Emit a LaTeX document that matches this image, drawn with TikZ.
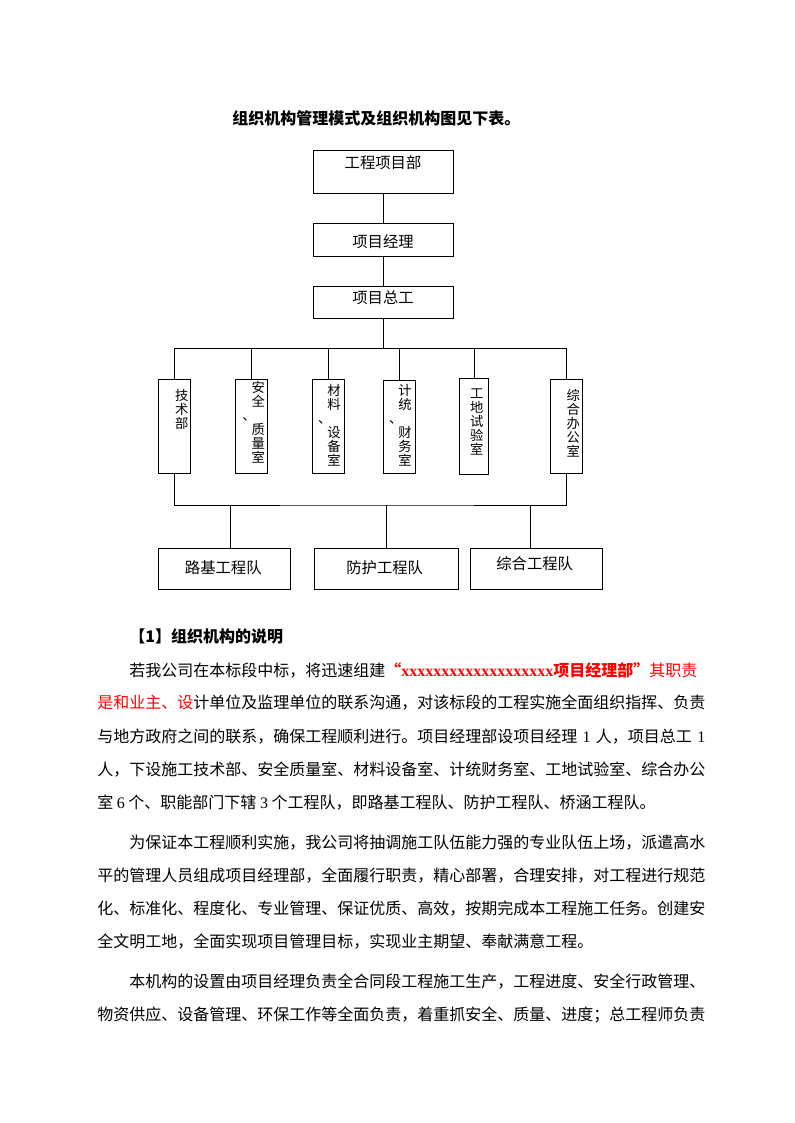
\documentclass[tikz,border=0pt]{standalone}
\usepackage{fontspec}
\setmainfont{Noto Sans CJK SC}
\newfontfamily\xfont{Liberation Serif}
\usepackage{xcolor}
\usepackage{tikz}
\usetikzlibrary{positioning,calc}
\definecolor{hongse}{HTML}{FF0000}
\XeTeXlinebreaklocale "zh"
\XeTeXlinebreakskip=0pt plus 1pt minus 0.1pt
\newcommand{\jline}[2]{\makebox[#1][s]{#2}}% ligne justifiee
\newcommand{\dun}{\makebox[0pt][r]{、\hspace{2pt}}}% dun hao decale
\newcommand{\zuoyin}{\makebox[12pt][r]{“}}% guillemets pleine chasse
\newcommand{\youyin}{\makebox[12pt][l]{”}}

\begin{document}
\begin{tikzpicture}[
    x=0.75pt, y=-0.75pt,
    every node/.style={inner sep=0pt},
    bx/.style 2 args={draw, line width=0.75pt, minimum width=#1*0.75pt, minimum height=#2*0.75pt},
    lk/.style={line width=0.75pt},
    zi/.style={font=\fontsize{11.5pt}{12pt}\selectfont},
    shu/.style={font=\fontsize{10pt}{10.5pt}\selectfont, align=center, anchor=north},
    hang/.style={font=\fontsize{12pt}{14pt}\selectfont, anchor=west},
    biaoti/.style={font=\fontsize{12pt}{14pt}\selectfont\bfseries, anchor=west}
  ]
  \fill[white] (0,0) rectangle (794,1123);
  \useasboundingbox (0,0) rectangle (794,1123);

  % ---- titre ----------------------------------------------------------
  \node[biaoti] (titre) at (232,118) {组织机构管理模式及组织机构图见下表。};

  % ---- direction ------------------------------------------------------
  \node[bx={140}{43}] (xmb)  at (383,172.5) {};
  \node[bx={140}{32}] (xmjl) at (383,240)   {};
  \node[bx={140}{32}] (xmzg) at (383,302)   {};
  \node[zi] (txmb)  at (383,162.7) {工程项目部};
  \node[zi] (txmjl) at (383,241.5) {项目经理};
  \node[zi] (txmzg) at (383,297.5) {项目总工};

  % ---- services (texte vertical) ---------------------------------------
  \node[bx={32}{94}]   (jsb) at (174,426)   {};
  \node[bx={32}{94}]   (aq)  at (251.5,426) {};
  \node[bx={32}{94}]   (cl)  at (328.3,426) {};
  \node[bx={32}{93}]   (jt)  at (399.3,426.8) {};
  \node[bx={29.5}{96}] (gd)  at (474,426.3) {};
  \node[bx={32}{94}]   (zh)  at (566.3,426) {};
  \node[shu] (tjsb) at (181.7,389)   {技\\术\\部};
  \node[shu] (taq)  at (258.3,381)   {安\\全\\\dun\\质\\量\\室};
  \node[shu] (tcl)  at (334,384)     {材\\料\\\dun\\设\\备\\室};
  \node[shu] (tjt)  at (405,384)     {计\\统\\\dun\\财\\务\\室};
  \node[shu] (tgd)  at (476.7,389)   {工\\地\\试\\验\\室};
  \node[shu] (tzh)  at (573.3,389)   {综\\合\\办\\公\\室};

  % ---- equipes ---------------------------------------------------------
  \node[bx={132}{41}] (lj) at (224.3,568.8) {};
  \node[bx={144}{41}] (fh) at (386.3,568.8) {};
  \node[bx={132}{41}] (zd) at (536.3,568.8) {};
  \node[zi] (tlj) at (223.3,567.3) {路基工程队};
  \node[zi] (tfh) at (384.7,567.3) {防护工程队};
  \node[zi] (tzd) at (534.7,564)   {综合工程队};

  % ---- liaisons --------------------------------------------------------
  \coordinate (bus1) at (383,348.3);
  \coordinate (bus2) at (383,505);
  \draw[lk] (xmb) -- (xmjl);
  \draw[lk] (xmjl) -- (xmzg);
  \draw[lk] (xmzg) -- (bus1);
  \draw[lk] (jsb.north) |- (bus1) -| (zh.north);
  \foreach \s in {aq,cl,jt,gd}
    \draw[lk] (\s.north) -- (\s.north |- bus1);
  \draw[lk] (jsb.south) |- (bus2) -| (zh.south);
  \draw[lk] ([xshift=4.5pt]lj.north) -- ([xshift=4.5pt]lj.north |- bus2);
  \draw[lk] (fh.north) -- (fh.north |- bus2);
  \draw[lk] ([xshift=-4.5pt]zd.north) -- ([xshift=-4.5pt]zd.north |- bus2);

  % ---- texte courant ---------------------------------------------------
  \node[biaoti] (sm) at (129,636) {【1】组织机构的说明};
  \node[hang] (l1) at (129,670) {\jline{432pt}{若我公司在本标段中标，将迅速组建{\color{hongse}\textbf{\zuoyin{\xfont xxxxxxxxxxxxxxxxxxx}项目经理部\youyin}其职责}}};
  \node[hang] (l2) at (97,703) {\jline{456pt}{{\color{hongse}是和业主、设}计单位及监理单位的联系沟通，对该标段的工程实施全面组织指挥、负责}};
  \node[hang] (l3) at (97,737) {\jline{456pt}{与地方政府之间的联系，确保工程顺利进行。项目经理部设项目经理 {\xfont 1} 人，项目总工 {\xfont 1}}};
  \node[hang] (l4) at (97,770) {\jline{456pt}{人，下设施工技术部、安全质量室、材料设备室、计统财务室、工地试验室、综合办公}};
  \node[hang] (l5) at (97,803) {室 {\xfont 6} 个、职能部门下辖 {\xfont 3} 个工程队，即路基工程队、防护工程队、桥涵工程队。};
  \node[hang] (l6) at (129,843) {\jline{432pt}{为保证本工程顺利实施，我公司将抽调施工队伍能力强的专业队伍上场，派遣高水}};
  \node[hang] (l7) at (97,876) {\jline{456pt}{平的管理人员组成项目经理部，全面履行职责，精心部署，合理安排，对工程进行规范}};
  \node[hang] (l8) at (97,909) {\jline{456pt}{化、标准化、程度化、专业管理、保证优质、高效，按期完成本工程施工任务。创建安}};
  \node[hang] (l9) at (97,942) {全文明工地，全面实现项目管理目标，实现业主期望、奉献满意工程。};
  \node[hang] (l10) at (129,982) {\jline{432pt}{本机构的设置由项目经理负责全合同段工程施工生产，工程进度、安全行政管理、}};
  \node[hang] (l11) at (97,1015) {\jline{456pt}{物资供应、设备管理、环保工作等全面负责，着重抓安全、质量、进度；总工程师负责}};

\end{tikzpicture}
\end{document}
